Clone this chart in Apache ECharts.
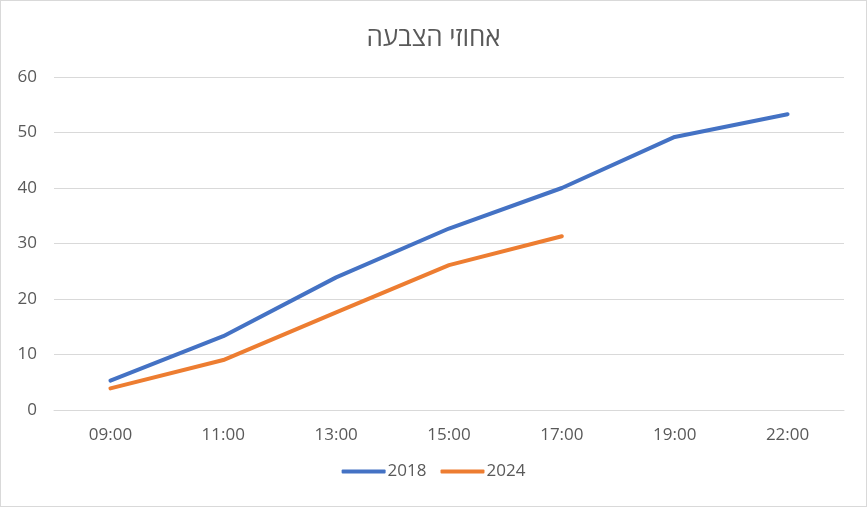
<!DOCTYPE html>
<html><head><meta charset="utf-8">
<script src="https://cdn.jsdelivr.net/npm/echarts@6/dist/echarts.min.js"></script>
<style>html,body{margin:0;padding:0;background:#fff}#c{width:867px;height:507px;box-sizing:border-box;border:1px solid #d9d9d9}</style>
</head><body><div id="c"></div>
<script>
const categories = ['09:00','11:00','13:00','15:00','17:00','19:00','22:00'];
const s2018 = [5.3, 13.3, 23.9, 32.7, 40.0, 49.2, 53.3];
const s2024 = [3.9, 9.0, 17.6, 26.1, 31.3, null, null];
const yTicks = [0, 10, 20, 30, 40, 50, 60];
const chart = echarts.init(document.getElementById('c'));
const font = '"Open Sans", "Noto Sans", Arial, sans-serif';
chart.setOption({
  animation: false,
  title: {text: 'אחוזי הצבעה', left: 'center', top: 20,
    textStyle: {color: '#595959', fontSize: 26, fontWeight: 'normal', fontFamily: '"Open Sans", "DejaVu Sans", sans-serif'}},
  grid: {left: 53, right: 22, top: 76, bottom: 96},
  legend: {bottom: 21, left: 'center', itemWidth: 44, itemHeight: 4, itemGap: 14, icon: 'roundRect',
    textStyle: {color: '#595959', fontSize: 17, fontFamily: font, padding: [0,0,0,-3]},
    data: ['2018', '2024']},
  xAxis: {type: 'category', data: categories, boundaryGap: true,
    axisLine: {show: true, lineStyle: {color: '#d9d9d9'}}, axisTick: {show: false},
    axisLabel: {color: '#595959', fontSize: 17, margin: 17, fontFamily: font}},
  yAxis: {type: 'value', min: yTicks[0], max: yTicks[yTicks.length-1], interval: 10,
    axisLine: {show: false}, axisTick: {show: false},
    splitLine: {lineStyle: {color: '#d9d9d9', width: 1}},
    axisLabel: {color: '#595959', fontSize: 17, margin: 17, fontFamily: font}},
  series: [
    {name: '2018', type: 'line', data: s2018, symbol: 'none', lineStyle: {width: 4, color: '#4472c4', cap: 'round'}, itemStyle: {color: '#4472c4'}},
    {name: '2024', type: 'line', data: s2024, symbol: 'none', lineStyle: {width: 4, color: '#ed7d31', cap: 'round'}, itemStyle: {color: '#ed7d31'}}
  ]
});
</script></body></html>
